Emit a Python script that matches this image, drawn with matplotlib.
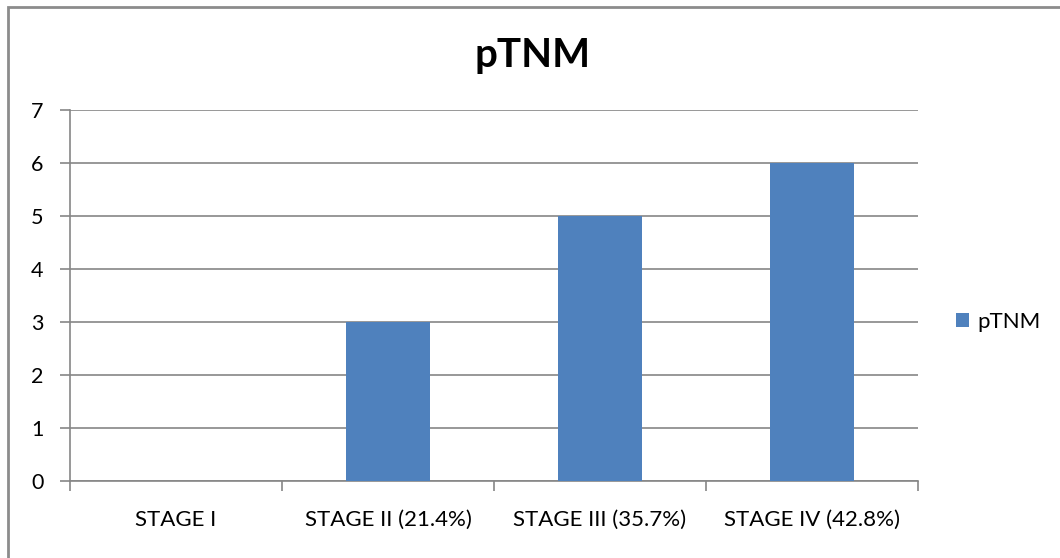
import matplotlib
matplotlib.use("Agg")
import matplotlib.pyplot as plt
from matplotlib.patches import Rectangle

categories = ["STAGE I", "STAGE II (21.4%)", "STAGE III (35.7%)", "STAGE IV (42.8%)"]
values = [0, 3, 5, 6]
series_name = "pTNM"
title = "pTNM"

plt.rcParams['font.family'] = ['Lato', 'DejaVu Sans']

bar_color = "#4F81BD"
grid_color = "#868686"

fig = plt.figure(figsize=(10.6, 5.58), dpi=100)
ax = fig.add_axes([70 / 1060, 1 - 481 / 558, 848 / 1060, 371 / 558])

x = list(range(len(categories)))
ax.bar(x, values, width=0.4, color=bar_color, label=series_name, zorder=3)

ax.set_xlim(-0.5, len(categories) - 0.5)
ax.set_ylim(0, 7)
ax.set_yticks(range(0, 8))
ax.yaxis.grid(True, color=grid_color, linewidth=1.2, zorder=0)

ax.set_xticks(x)
ax.set_xticklabels(categories, fontsize=16)
ax.tick_params(axis='x', length=0, pad=21)
ax.set_xticks([i - 0.5 for i in range(len(categories) + 1)], minor=True)
ax.tick_params(axis='x', which='minor', length=7, color=grid_color, width=1.2, direction='out')
ax.tick_params(axis='y', length=7, color=grid_color, width=1.2, labelsize=15.5, pad=12)

for side in ('top', 'right'):
    ax.spines[side].set_visible(False)
for side in ('left', 'bottom'):
    ax.spines[side].set_color(grid_color)
    ax.spines[side].set_linewidth(1.2)

fig.text(533 / 1060, 1 - 55 / 558, title, fontsize=29, fontweight='bold',
         ha='center', va='center')

ax.legend(loc='center left', bbox_to_anchor=((956 - 70) / 848, (481 - 322) / 371),
          frameon=False, fontsize=16, handlelength=0.6, handleheight=0.6,
          handletextpad=0.35, borderpad=0, borderaxespad=0)

# outer chart frame, extending past the right and bottom edges
fig.patches.append(Rectangle((7.5 / 1060, -0.05), 1.1, 1 - 6.5 / 558 + 0.05,
                             transform=fig.transFigure, fill=False,
                             edgecolor="#8C8C8C", linewidth=2.0))

fig.savefig("out.png", dpi=100)
